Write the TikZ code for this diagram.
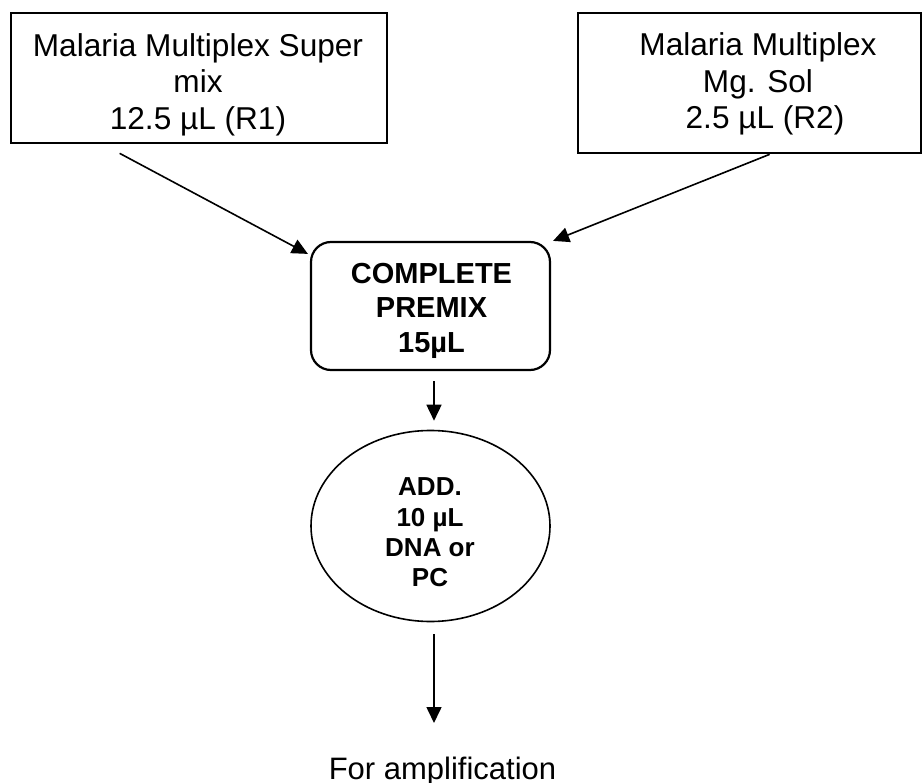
\documentclass[tikz,border=0pt]{standalone}
\usepackage{fontspec}
\setmainfont{Liberation Sans}
\usetikzlibrary{arrows.meta,shapes.geometric}
\begin{document}
\begin{tikzpicture}[x=1pt,y=-1pt,
 inbox/.style={draw,line width=2.7pt,rectangle,inner sep=0pt},
 boxtxt/.style={align=center,inner sep=0pt,font=\fontsize{31.6}{36.5}\selectfont},
 premix/.style={draw,line width=2.2pt,rectangle,rounded corners=20pt,inner sep=0pt},
 premixtxt/.style={align=center,inner sep=0pt,font=\fontsize{29}{34.5}\selectfont\bfseries},
 addell/.style={draw,line width=1.6pt,ellipse,inner sep=0pt},
 addtxt/.style={align=center,inner sep=0pt,font=\fontsize{26}{30.3}\selectfont\bfseries},
 plaintxt/.style={inner sep=0pt,font=\fontsize{31}{36}\selectfont},
 arr/.style={line width=1.6pt,-{Triangle[length=16pt,width=15pt]}}
]
\useasboundingbox[fill=white] (0,0) rectangle (924,783);

% boxes
\node[inbox,minimum width=376pt,minimum height=130pt] (b1) at (199,78) {};
\node[boxtxt] (t1) at (198,84.7) {Malaria Multiplex Super\\mix\hspace*{14pt}\\12.5 µL (R1)};

\node[inbox,minimum width=343pt,minimum height=140pt] (b2) at (749.5,83) {};
\node[boxtxt] (t2) at (758,84) {Malaria Multiplex\\Mg. Sol\\\hspace*{14pt}2.5 µL (R2)};

\node[premix,minimum width=239pt,minimum height=128pt] (pm) at (430.5,306) {};
\node[premixtxt] (tp) at (431.5,310.5) {COMPLETE\\PREMIX\\15µL};

\node[addell,minimum width=239pt,minimum height=191pt] (ad) at (430.5,526) {};
\node[addtxt] (ta) at (430,532.5) {ADD.\\10 µL\\DNA or\\PC};

\node[plaintxt,anchor=base] (fa) at (442.5,779) {For amplification};

% connectors
\draw[arr] ([xshift=110pt,yshift=-9pt]b1.south west) -- ([xshift=-2pt,yshift=-13pt]pm.north west);
\draw[arr] ([xshift=193pt]b2.south west) -- ([xshift=2pt]pm.north east);
\draw[arr] ([xshift=3.5pt,yshift=-10pt]pm.south) -- ([xshift=3.5pt,yshift=9pt]ad.north);
\draw[arr] ([xshift=3.5pt,yshift=-12pt]ad.south) -- ([xshift=-8.5pt,yshift=56pt]fa.base);
\end{tikzpicture}
\end{document}
